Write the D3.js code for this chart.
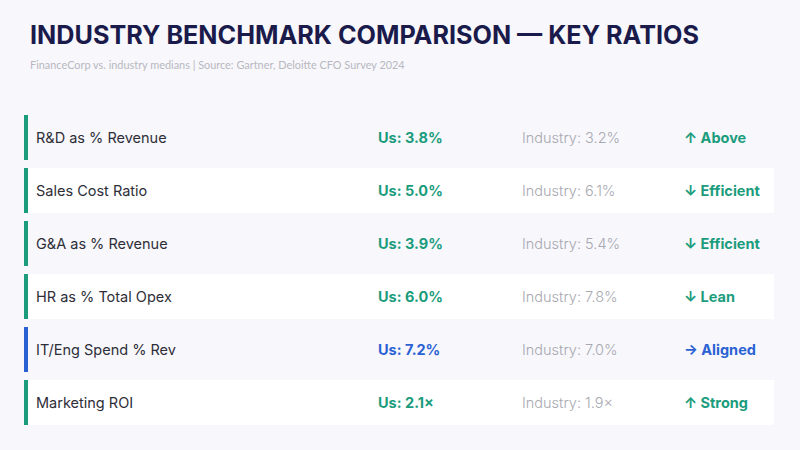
<!DOCTYPE html>
<html lang="en">
<head>
    <meta charset="UTF-8">
    <title>Industry Benchmark Comparison</title>
    <style>
        body {
            margin: 0;
            padding: 0;
            background-color: #f7f7fc;
        }
        svg {
            display: block;
            font-family: Inter, "Noto Sans", sans-serif;
        }
    </style>
</head>
<body>
<svg id="chart" width="800" height="450"></svg>

<script src="https://d3js.org/d3.v7.min.js"></script>
<script>
    // chart data
    const metrics = ["R&D as % Revenue", "Sales Cost Ratio", "G&A as % Revenue", "HR as % Total Opex", "IT/Eng Spend % Rev", "Marketing ROI"];
    const usValues = ["3.8%", "5.0%", "3.9%", "6.0%", "7.2%", "2.1×"];
    const industryValues = ["3.2%", "6.1%", "5.4%", "7.8%", "7.0%", "1.9×"];
    const statusLabels = ["↑ Above", "↓ Efficient", "↓ Efficient", "↓ Lean", "→ Aligned", "↑ Strong"];
    const statusTypes = ["good", "good", "good", "good", "neutral", "good"];

    const width = 800, height = 450;
    const svg = d3.select("#chart");

    svg.append("rect")
        .attr("width", width)
        .attr("height", height)
        .attr("fill", "#f7f7fc");

    svg.append("text")
        .attr("x", 30)
        .attr("y", 44)
        .attr("fill", "#1b1b4b")
        .attr("font-size", 25.2)
        .attr("font-weight", 700)
        .text("INDUSTRY BENCHMARK COMPARISON — KEY RATIOS");

    svg.append("text")
        .attr("x", 30)
        .attr("y", 69)
        .attr("fill", "#b8b8c0")
        .attr("font-size", 10.9)
        .attr("font-family", "Lato, sans-serif")
        .text("FinanceCorp vs. industry medians | Source: Gartner, Deloitte CFO Survey 2024");

    const y = d3.scaleBand()
        .domain(metrics)
        .range([115, 425])
        .paddingInner(8 / 53);

    const color = d3.scaleOrdinal()
        .domain(["good", "neutral"])
        .range(["#1b9c7c", "#2a62d4"]);

    const rows = svg.selectAll(".row")
        .data(metrics.map((m, i) => ({
            metric: m, us: usValues[i], industry: industryValues[i],
            status: statusLabels[i], type: statusTypes[i], i: i
        })))
        .enter().append("g")
        .attr("class", "row")
        .attr("transform", d => "translate(0," + y(d.metric) + ")");

    rows.append("rect")
        .attr("x", 24)
        .attr("width", 750)
        .attr("height", y.bandwidth())
        .attr("fill", d => d.i % 2 === 1 ? "#ffffff" : "#f7f7fc");

    rows.append("rect")
        .attr("x", 24)
        .attr("width", 4)
        .attr("height", y.bandwidth())
        .attr("fill", d => color(d.type));

    const mid = y.bandwidth() / 2;

    rows.append("text")
        .attr("x", 36)
        .attr("y", mid)
        .attr("dy", "0.35em")
        .attr("font-size", 14.5)
        .attr("fill", "#2e2e38")
        .text(d => d.metric);

    rows.append("text")
        .attr("x", 378)
        .attr("y", mid)
        .attr("dy", "0.35em")
        .attr("font-size", 14.5)
        .attr("font-weight", 700)
        .attr("fill", d => color(d.type))
        .text(d => "Us: " + d.us);

    rows.append("text")
        .attr("x", 522)
        .attr("y", mid)
        .attr("dy", "0.35em")
        .attr("font-size", 14.5)
        .attr("font-weight", 300)
        .attr("fill", "#a8a8b0")
        .text(d => "Industry: " + d.industry);

    rows.append("text")
        .attr("x", 684)
        .attr("y", mid)
        .attr("dy", "0.35em")
        .attr("font-size", 14.5)
        .attr("font-weight", 700)
        .attr("fill", d => color(d.type))
        .text(d => d.status);
</script>
</body>
</html>
